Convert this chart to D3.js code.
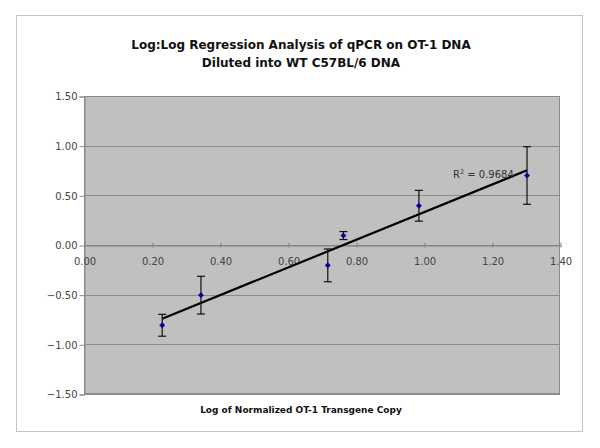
<!DOCTYPE html>
<html><head><meta charset="utf-8">
<script src="https://cdn.jsdelivr.net/npm/d3@7"></script>
<style>body{margin:0;background:#fff}svg{display:block}</style>
</head><body>
<svg id="c" width="600" height="448"></svg>
<script>
const xValues = [0.23, 0.344, 0.717, 0.763, 0.985, 1.303];
const yValues = [-0.808, -0.505, -0.205, 0.095, 0.395, 0.70];
const yErrors = [0.11, 0.19, 0.165, 0.04, 0.155, 0.29];
const xTicks = [0, 0.2, 0.4, 0.6, 0.8, 1.0, 1.2, 1.4];
const yTicks = [-1.5, -1.0, -0.5, 0, 0.5, 1.0, 1.5];
const titleLines = ["Log:Log Regression Analysis of qPCR on OT-1 DNA", "Diluted into WT C57BL/6 DNA"];
const xLabel = "Log of Normalized OT-1 Transgene Copy";
const r2Label = "0.9684";

const svg = d3.select("#c");
const L = 84, R = 560, T = 96, B = 394;
const x = d3.scaleLinear().domain([0, 1.4]).range([L, R]);
const y = d3.scaleLinear().domain([-1.5, 1.5]).range([B, T]);

// outer border
svg.append("rect").attr("x", 16.5).attr("y", 15.5).attr("width", 566).attr("height", 416)
  .attr("fill", "#fff").attr("stroke", "#c4c4c4");

// title
const tt = svg.append("text").attr("text-anchor", "middle")
  .attr("font-family", "DejaVu Sans").attr("font-weight", "bold").attr("font-size", 12).attr("fill", "#111");
titleLines.forEach((t, i) => tt.append("tspan").attr("x", 301).attr("y", 49 + i * 18).text(t));

// plot area
svg.append("rect").attr("x", L).attr("y", T).attr("width", R - L).attr("height", B - T)
  .attr("fill", "#c0c0c0");

// gridlines
svg.append("g").selectAll("line").data(yTicks).join("line")
  .attr("x1", L).attr("x2", R).attr("y1", d => Math.round(y(d)) + 0.5).attr("y2", d => Math.round(y(d)) + 0.5)
  .attr("stroke", "#8c8c8c").attr("stroke-width", 1);

// plot border
svg.append("rect").attr("x", L + 0.5).attr("y", T + 0.5).attr("width", R - L - 1).attr("height", B - T - 1)
  .attr("fill", "none").attr("stroke", "#8a8a8a");

// y axis
const yAxis = d3.axisLeft(y).tickValues(yTicks).tickFormat(d3.format(".2f")).tickSize(5).tickPadding(2);
const gy = svg.append("g").attr("transform", `translate(${L + 0.5},0.5)`).call(yAxis);
gy.select(".domain").attr("stroke", "#8a8a8a");
gy.selectAll(".tick line").attr("stroke", "#8a8a8a");
gy.selectAll("text").attr("font-family", "DejaVu Sans").attr("font-size", 10).attr("fill", "#444");

// x axis at y=0
const xAxis = d3.axisBottom(x).tickValues(xTicks).tickFormat(d3.format(".2f")).tickSize(0).tickPadding(12);
const gx = svg.append("g").attr("transform", `translate(0.5,${Math.round(y(0)) + 0.5})`).call(xAxis);
gx.select(".domain").attr("stroke", "#808080");
gx.selectAll(".tick").append("line").attr("y1", -3).attr("y2", 2).attr("stroke", "#808080");
gx.selectAll("text").attr("font-family", "DejaVu Sans").attr("font-size", 10).attr("fill", "#444");

// regression fit from data
const n = xValues.length;
const mx = d3.mean(xValues), my = d3.mean(yValues);
let sxy = 0, sxx = 0;
for (let i = 0; i < n; i++) { sxy += (xValues[i] - mx) * (yValues[i] - my); sxx += (xValues[i] - mx) ** 2; }
const slope = sxy / sxx, icpt = my - slope * mx;
const x0 = d3.min(xValues), x1 = d3.max(xValues);
svg.append("line").attr("x1", x(x0)).attr("y1", y(icpt + slope * x0))
  .attr("x2", x(x1)).attr("y2", y(icpt + slope * x1))
  .attr("stroke", "#000").attr("stroke-width", 2.2);

// error bars
const eb = svg.append("g").attr("stroke", "#111").attr("stroke-width", 1.2);
xValues.forEach((xv, i) => {
  const cx = x(xv), top = y(yValues[i] + yErrors[i]), bot = y(yValues[i] - yErrors[i]);
  eb.append("line").attr("x1", cx).attr("x2", cx).attr("y1", top).attr("y2", bot);
  eb.append("line").attr("x1", cx - 4).attr("x2", cx + 4).attr("y1", top).attr("y2", top);
  eb.append("line").attr("x1", cx - 4).attr("x2", cx + 4).attr("y1", bot).attr("y2", bot);
});

// markers
svg.append("g").selectAll("path").data(xValues).join("path")
  .attr("d", d3.symbol(d3.symbolDiamond2, 22))
  .attr("transform", (d, i) => `translate(${x(d)},${y(yValues[i])})`)
  .attr("fill", "#0000a0");

// R² label
const rt = svg.append("text").attr("x", 453).attr("y", 178)
  .attr("font-family", "DejaVu Sans").attr("font-size", 10).attr("fill", "#333");
rt.append("tspan").text("R");
rt.append("tspan").attr("dy", -4).attr("font-size", 6.5).text("2");
rt.append("tspan").attr("dy", 4).text(" = " + r2Label);

// x label
svg.append("text").attr("x", 301).attr("y", 413).attr("text-anchor", "middle")
  .attr("font-family", "DejaVu Sans").attr("font-weight", "bold").attr("font-size", 9).attr("fill", "#111")
  .text(xLabel);
</script>
</body></html>
